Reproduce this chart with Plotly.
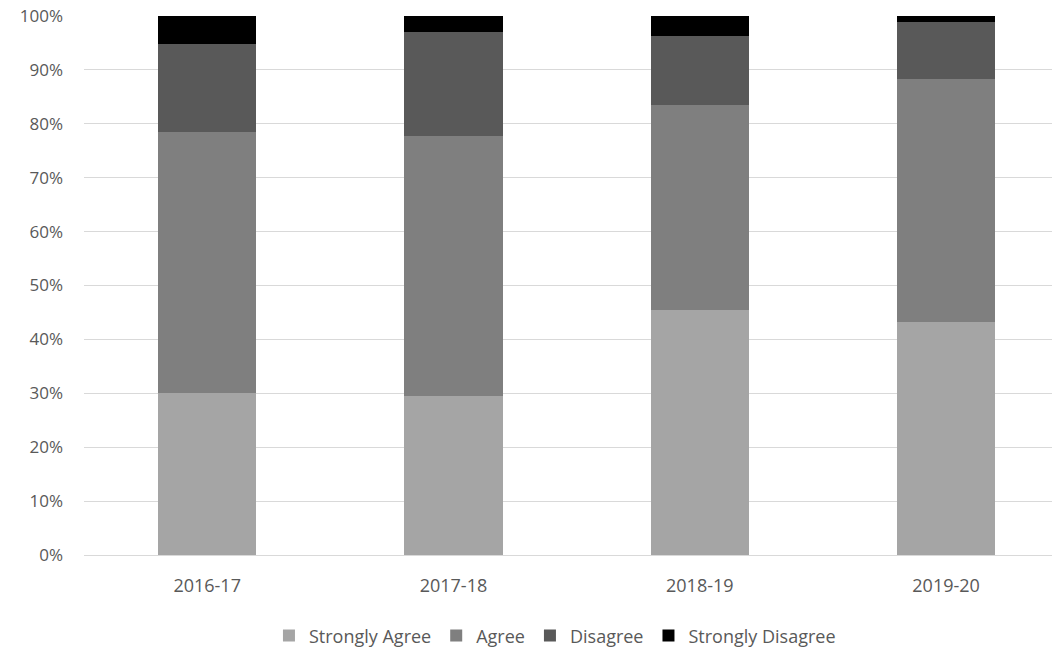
import plotly.graph_objects as go

years = ["2016-17", "2017-18", "2018-19", "2019-20"]

strongly_agree = [30.0, 29.5, 45.5, 43.3]
agree = [48.4, 48.2, 37.9, 45.1]
disagree = [16.4, 19.3, 12.8, 10.4]
strongly_disagree = [5.2, 3.0, 3.8, 1.2]

series = [
    ("Strongly Agree", strongly_agree, "#a5a5a5"),
    ("Agree", agree, "#7f7f7f"),
    ("Disagree", disagree, "#595959"),
    ("Strongly Disagree", strongly_disagree, "#000000"),
]

fig = go.Figure()
for name, vals, color in series:
    fig.add_trace(go.Bar(
        name=name,
        x=years,
        y=[v / 100 for v in vals],
        marker=dict(color=color, line=dict(width=0)),
    ))

fig.update_layout(
    barmode="stack",
    bargap=0.6,
    width=1060,
    height=654,
    margin=dict(l=76, r=0, t=8, b=107),
    plot_bgcolor="white",
    paper_bgcolor="white",
    font=dict(family="Open Sans, Liberation Sans, sans-serif", size=18, color="#595959"),
    xaxis=dict(
        range=[-0.5, 3.495],
        showgrid=False,
        showline=False,
        ticks="",
        tickfont=dict(size=18, color="#595959"),
        ticklabelstandoff=18,
        automargin=False,
    ),
    yaxis=dict(
        range=[0, 1],
        tickformat=".0%",
        dtick=0.1,
        showgrid=True,
        gridcolor="#d9d9d9",
        gridwidth=1,
        zeroline=True,
        zerolinecolor="#d9d9d9",
        zerolinewidth=1,
        tickfont=dict(size=17, color="#595959"),
        ticklabelstandoff=20,
        ticklabeloverflow="allow",
        automargin=False,
    ),
    legend=dict(
        orientation="h",
        xref="container",
        yref="container",
        x=0.516,
        y=0.04,
        xanchor="center",
        yanchor="middle",
        font=dict(size=18, color="#595959"),
        traceorder="normal",
    ),
)

fig.write_html("out.html")
